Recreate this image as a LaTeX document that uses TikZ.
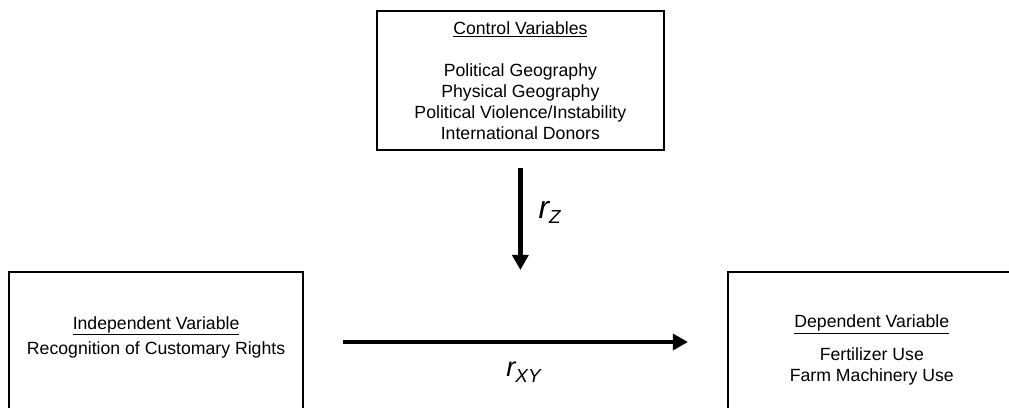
\documentclass[tikz,border=0pt]{standalone}
\usepackage{fontspec}
\setmainfont{Liberation Sans}
\usetikzlibrary{arrows.meta, positioning}
\tikzset{
  caja/.style={rectangle, draw=black, line width=1.4pt, inner sep=0pt},
  texto/.style={align=center, font=\fontsize{13.3}{15.75}\selectfont},
  flecha/.style={-{Triangle[length=4mm, width=4.2mm]}, line width=3.4pt, black},
  coef/.style={inner sep=0pt, anchor=base west}
}
\newcommand{\coefr}[1]{\itshape r\raisebox{-4pt}{\fontsize{14.2}{16}\selectfont\itshape #1}}

\begin{document}
\begin{tikzpicture}
  \useasboundingbox (0,0) rectangle (26.70,-10.795);
  \clip (0,0) rectangle (26.70,-10.795);

  % --- Cajas ---
  \node[caja, texto, minimum width=7.60cm, minimum height=3.68cm] (ctrl) at (13.77,-2.13)
    {\underline{Control Variables}\\[16.5pt] Political Geography\\ Physical Geography\\
     Political Violence/Instability\\ International Donors};
  \node[caja, minimum width=7.78cm, minimum height=3.70cm] (indep) at (4.13,-9.05) {};
  \node[caja, minimum width=7.62cm, minimum height=3.70cm] (dep) at (23.07,-9.05) {};

  % Textos de las cajas inferiores
  \node[texto] (indepTxt) at (4.13,-8.92)
    {\underline{Independent Variable}\\[3pt] Recognition of Customary Rights};
  \node[texto] (depTxt) at (23.07,-9.26)
    {\underline{Dependent Variable}\\[9.25pt] Fertilizer Use\\ Farm Machinery Use};

  % --- Flechas ---
  \draw[flecha, shorten <=0.45cm, shorten >=0.03cm] (ctrl.south) -- (ctrl.south |- indep.north)
    node[coef, midway, xshift=0.42cm, yshift=-0.19cm, font=\fontsize{24}{28}\selectfont\itshape] (rz) {\coefr{Z}};
  \draw[flecha, shorten <=1.03cm, shorten >=1.03cm] (indep.east) -- (dep.west)
    node[coef, midway, xshift=-0.30cm, yshift=-0.925cm, font=\fontsize{20.5}{24}\selectfont\itshape] (rxy) {\coefr{XY}};

\end{tikzpicture}
\end{document}
